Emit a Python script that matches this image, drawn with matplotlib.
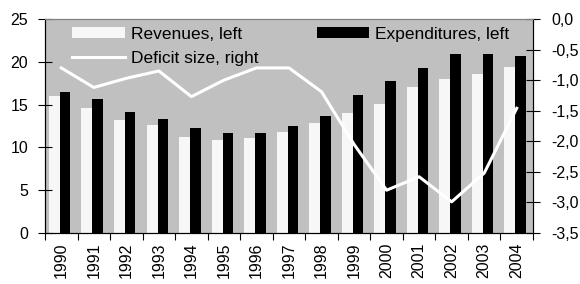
import matplotlib
matplotlib.use("Agg")
import matplotlib.pyplot as plt
from matplotlib.ticker import FixedLocator, FuncFormatter

years = ["1990", "1991", "1992", "1993", "1994", "1995", "1996", "1997",
         "1998", "1999", "2000", "2001", "2002", "2003", "2004"]
revenues = [16.0, 14.6, 13.2, 12.6, 11.25, 10.9, 11.1, 11.8,
            12.9, 14.05, 15.1, 17.1, 18.0, 18.6, 19.4]
expenditures = [16.5, 15.7, 14.1, 13.35, 12.3, 11.7, 11.7, 12.5,
                13.7, 16.1, 17.7, 19.3, 20.95, 20.95, 20.7]
deficit = [-0.8, -1.12, -0.97, -0.85, -1.27, -1.0, -0.8, -0.8,
           -1.19, -2.05, -2.8, -2.58, -2.99, -2.52, -1.46]

plt.rcParams['font.family'] = ['Liberation Sans', 'DejaVu Sans']
plt.rcParams['font.size'] = 11.5

fig = plt.figure(figsize=(5.8, 2.84), dpi=100)
ax = fig.add_axes([45/580, 1-233/284, (533-45)/580, (233-19)/284])
ax.set_facecolor('#c0c0c0')

n = len(years)
idx = list(range(n))
b1 = ax.bar([i + 0.12 for i in idx], revenues, width=0.34, align='edge',
            color='#f7f7f7', edgecolor='none', label='Revenues, left')
b2 = ax.bar([i + 0.46 for i in idx], expenditures, width=0.32, align='edge',
            color='black', edgecolor='none', label='Expenditures, left')
ax.set_xlim(0, n)
ax.set_ylim(0, 25)
ax.set_yticks([0, 5, 10, 15, 20, 25])
ax.xaxis.set_major_locator(FixedLocator(list(range(n + 1))))
ax.xaxis.set_major_formatter(FuncFormatter(lambda v, p: ''))
ax.xaxis.set_minor_locator(FixedLocator([i + 0.5 for i in idx]))
ax.set_xticklabels(years, minor=True, rotation=90)
ax.tick_params(axis='x', which='major', direction='out', length=5, width=0.8)
ax.tick_params(axis='x', which='minor', length=0, pad=7)
ax.tick_params(axis='y', direction='inout', length=10, width=0.8, pad=7)

ax2 = ax.twinx()
ln, = ax2.plot([i + 0.5 for i in idx], deficit, color='white', lw=2.2,
               label='Deficit size, right')
ax2.set_ylim(-3.5, 0)
ax2.set_yticks([-3.5, -3.0, -2.5, -2.0, -1.5, -1.0, -0.5, 0.0])
ax2.yaxis.set_major_formatter(FuncFormatter(lambda v, p: f"{v:.1f}".replace('.', ',')))
ax2.tick_params(axis='y', direction='inout', length=10, width=0.8, pad=8)

for a in (ax, ax2):
    a.spines['top'].set_color('#808080')
    a.spines['top'].set_linewidth(0.8)
    for s in ('left', 'right', 'bottom'):
        a.spines[s].set_linewidth(0.8)

ax2.legend([b1, ln, b2], ['Revenues, left', 'Deficit size, right', 'Expenditures, left'],
           ncol=2, frameon=False, loc='upper left',
           bbox_to_anchor=(0.035, 1.012), handlelength=3.0, handleheight=0.6,
           handletextpad=0.35, columnspacing=3.4, labelspacing=0.53,
           borderaxespad=0.2, fontsize=12.5)

fig.savefig('out.png', dpi=100)
